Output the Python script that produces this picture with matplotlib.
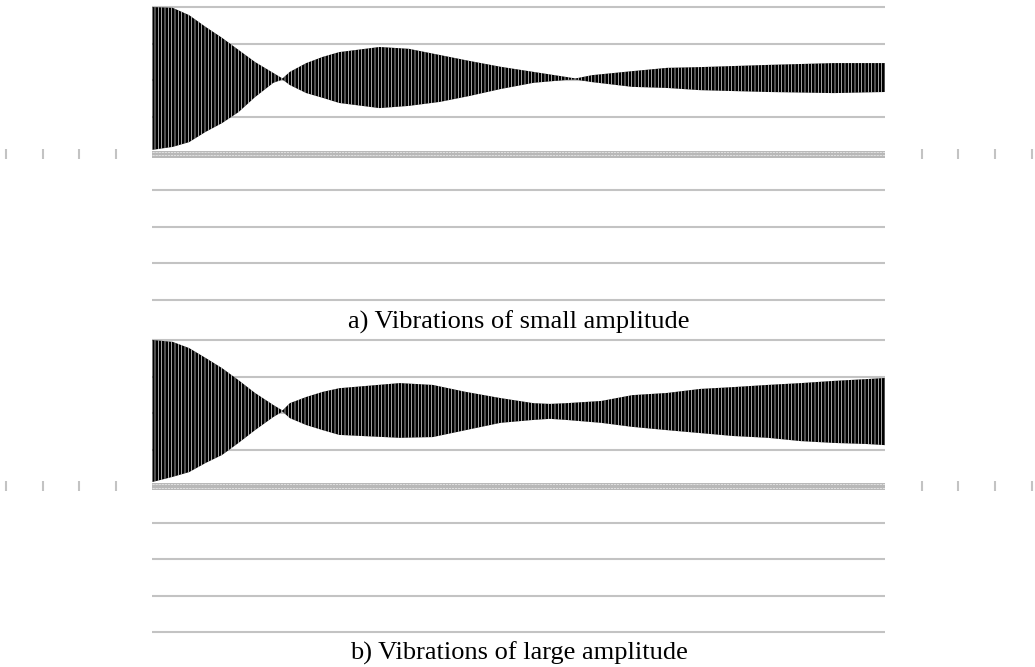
import numpy as np
import matplotlib
matplotlib.use("Agg")
import matplotlib.pyplot as plt

# Envelope of the oscillation (time axis 0..200)
t_a = [0, 5.5, 10, 14.5, 19, 23.5, 28, 33, 35.5, 37.5, 42, 46.5, 51, 62, 70, 78.5, 86.5, 95, 104, 113, 115.5, 120, 131, 140.5, 149.5, 168, 186, 200]
upper_a = [4.00, 3.98, 3.78, 3.46, 3.16, 2.83, 2.50, 2.20, 2.05, 2.23, 2.47, 2.64, 2.77, 2.91, 2.86, 2.69, 2.53, 2.37, 2.23, 2.09, 2.05, 2.14, 2.25, 2.34, 2.36, 2.42, 2.47, 2.47]
lower_a = [0.10, 0.18, 0.31, 0.59, 0.83, 1.13, 1.54, 1.93, 2.02, 1.87, 1.65, 1.52, 1.38, 1.24, 1.30, 1.41, 1.57, 1.76, 1.93, 2.01, 2.02, 1.95, 1.82, 1.79, 1.73, 1.68, 1.65, 1.68]

t_b = [0, 5.5, 10, 14.5, 19, 23.5, 28, 33, 35.5, 37.5, 42, 46.5, 51, 67.5, 76.5, 85.5, 95, 104, 108.5, 113, 122.5, 131, 140.5, 149.5, 158.5, 168, 177, 186, 195, 200]
upper_b = [4.00, 3.95, 3.78, 3.51, 3.23, 2.90, 2.55, 2.22, 2.07, 2.27, 2.44, 2.58, 2.68, 2.82, 2.77, 2.58, 2.41, 2.27, 2.25, 2.27, 2.33, 2.49, 2.55, 2.66, 2.71, 2.77, 2.82, 2.88, 2.93, 2.96]
lower_b = [0.11, 0.25, 0.38, 0.63, 0.85, 1.18, 1.53, 1.89, 2.04, 1.86, 1.67, 1.53, 1.40, 1.32, 1.34, 1.53, 1.73, 1.81, 1.84, 1.81, 1.73, 1.62, 1.53, 1.45, 1.37, 1.32, 1.23, 1.18, 1.15, 1.12]

grid_levels = [-4, -3, -2, -1, 1, 2, 3, 4]
outer_ticks = [-40, -30, -20, -10, 210, 220, 230, 240]

titles = ["a) Vibrations of small amplitude", "b) Vibrations of large amplitude"]

grey = '#c3c3c3'
plt.rcParams['hatch.linewidth'] = 0.45

fig = plt.figure(figsize=(10.35, 6.67), dpi=100)
# axes rectangles in figure fraction: [left, bottom, width, height]
rects = [[0.1473, 0.5448, 0.7078, 0.4501], [0.1473, 0.0470, 0.7078, 0.4487]]
title_y = [0.517, 0.021]

for k, (t, up, lo) in enumerate([(t_a, upper_a, lower_a), (t_b, upper_b, lower_b)]):
    ax = fig.add_axes(rects[k])
    ax.set_xlim(0, 200)
    ax.set_ylim(-4.1, 4.1)
    ax.set_axis_off()

    for g in grid_levels:
        ax.axhline(g, color=grey, lw=1.5, zorder=1)

    # x axis drawn as a hatched grey band
    ax.axhline(0, color='#b8b8b8', lw=5, zorder=1)
    ax.axhline(0.05, color='white', lw=0.4, dashes=(4, 1.5), zorder=2)
    ax.axhline(-0.05, color='white', lw=0.4, dashes=(4, 1.5), zorder=2)
    ax.plot(outer_ticks, [0] * len(outer_ticks), ls='none', marker='|',
            ms=7, mew=1.5, color=grey, clip_on=False)

    # oscillation: black band between envelopes, white hatch gives the cycles
    ax.fill_between(t, lo, up, facecolor='black', edgecolor='white',
                    hatch='|||||', linewidth=0, zorder=3)

    fig.text(0.501, title_y[k], titles[k], ha='center', va='center',
             family='Liberation Serif', fontsize=19)

fig.savefig('out.png', dpi=100)
